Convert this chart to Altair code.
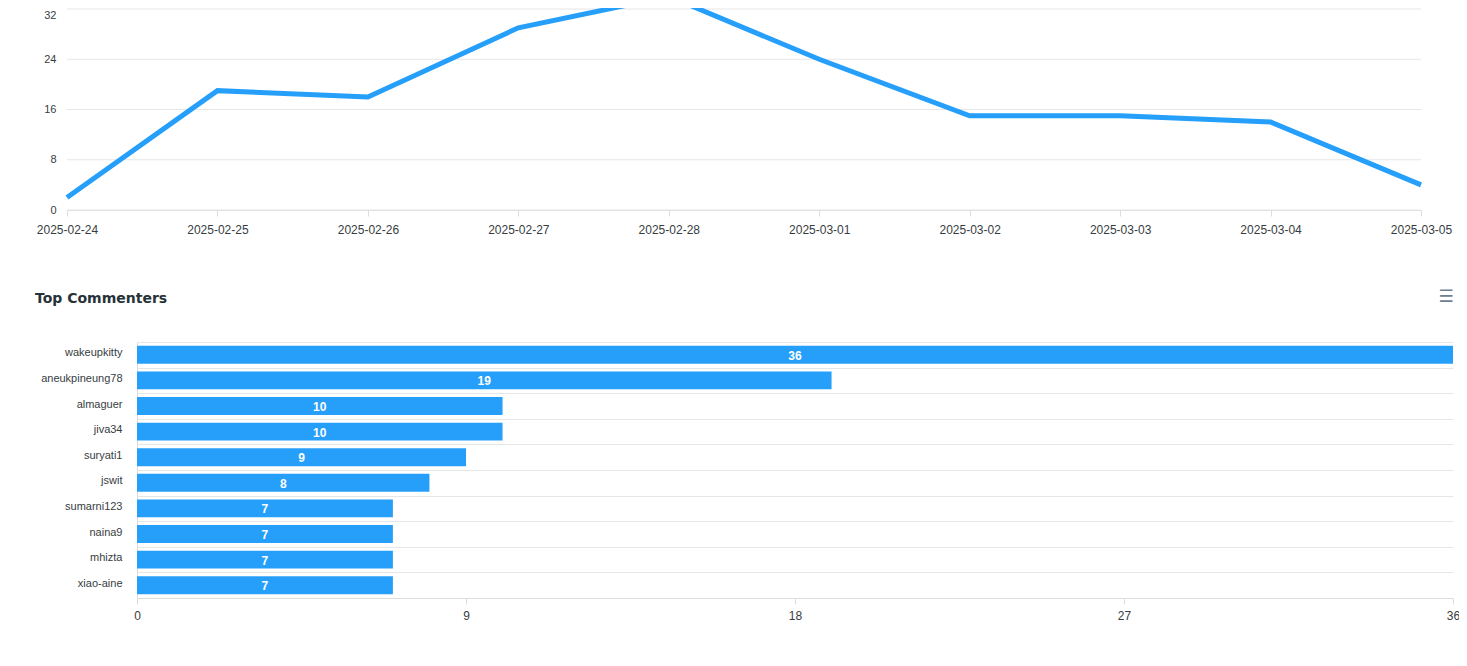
import altair as alt
import pandas as pd

# ---- data ----
dates = ["2025-02-24", "2025-02-25", "2025-02-26", "2025-02-27", "2025-02-28",
         "2025-03-01", "2025-03-02", "2025-03-03", "2025-03-04", "2025-03-05"]
counts = [2, 19, 18, 29, 34, 24, 15, 15, 14, 4]
y_ticks = [0, 8, 16, 24, 32]

users = ["wakeupkitty", "aneukpineung78", "almaguer", "jiva34", "suryati1",
         "jswit", "sumarni123", "naina9", "mhizta", "xiao-aine"]
comments = [36, 19, 10, 10, 9, 8, 7, 7, 7, 7]
x_ticks = [0, 9, 18, 27, 36]

title_text = "Top Commenters"
menu_icon = ["☰"]

# ---- style ----
BLUE = "#269ffb"
GRID = "#e6e6e6"
AXIS = "#dcdcdc"
TEXT = "#373d3f"
FONT = "Liberation Sans"

LINE_W = 1284
LINE_H = 201
OFF = 70
BAR_W = 1316
BAR_H = 256

line_df = pd.DataFrame({"date": dates, "count": counts})
grid_df = pd.DataFrame({"g": y_ticks})
bar_df = pd.DataFrame({"user": users, "comments": comments})
icon_df = pd.DataFrame({"icon": menu_icon})

xscale = alt.Scale(type="point", range=[-OFF, LINE_W], padding=0)
yscale = alt.Scale(domain=[0, 32], nice=False)

x_axis = alt.Axis(labelAngle=0, domainColor=AXIS, tickColor=AXIS, tickSize=6,
                  labelPadding=8, labelFontSize=12, labelColor=TEXT, labelFont=FONT,
                  grid=False)
y_axis = alt.Axis(values=y_ticks, offset=OFF, domain=False, ticks=False, tickSize=0,
                  labelPadding=11, grid=False, labelFontSize=11, labelColor=TEXT,
                  labelFont=FONT,
                  labelBaseline={"condition": {"test": "datum.value == 32", "value": "top"},
                                 "value": "middle"})

grid = alt.Chart(grid_df).mark_rule(color=GRID, strokeWidth=1).encode(
    x=alt.XDatum(dates[0], type="nominal", title=None, scale=xscale, axis=x_axis),
    x2=alt.X2Datum(dates[-1]),
    y=alt.Y("g:Q", scale=yscale, title=None, axis=y_axis),
)

line = alt.Chart(line_df).mark_line(color=BLUE, strokeWidth=5).encode(
    x=alt.X("date:N", scale=xscale, title=None, axis=x_axis),
    y=alt.Y("count:Q", scale=yscale, title=None, axis=y_axis),
)

top_chart = alt.layer(grid, line).properties(width=LINE_W, height=LINE_H)

bars = alt.Chart(bar_df).mark_bar(color=BLUE, height={"band": 0.7}).encode(
    x=alt.X("comments:Q", scale=alt.Scale(domain=[0, 36], nice=False), title=None,
            axis=alt.Axis(values=x_ticks, grid=False, domainColor=AXIS, tickColor=AXIS,
                          tickSize=6, labelPadding=6, labelFontSize=12, labelColor=TEXT,
                          labelFont=FONT, labelFlush=False)),
    y=alt.Y("user:N", sort=users, title=None,
            scale=alt.Scale(paddingInner=0, paddingOuter=0),
            axis=alt.Axis(tickBand="extent", grid=True, gridColor=GRID, domainColor=AXIS,
                          ticks=False, labelPadding=15, labelFontSize=11, labelColor=TEXT,
                          labelFont=FONT, labelOffset=-2)),
)

bar_labels = alt.Chart(bar_df).mark_text(
    color="white", fontWeight="bold", fontSize=12, font=FONT, baseline="middle", dy=1
).transform_calculate(mid="datum.comments / 2").encode(
    x=alt.X("mid:Q", title=None),
    y=alt.Y("user:N", sort=users, title=None),
    text=alt.Text("comments:Q"),
)

icon = alt.Chart(icon_df).mark_text(
    color="#6e8192", fontSize=17, font="DejaVu Sans", align="center", baseline="middle"
).encode(
    x=alt.value(BAR_W - 7),
    y=alt.value(-45),
    text="icon:N",
)

bottom_chart = alt.layer(bars, bar_labels, icon).properties(
    width=BAR_W, height=BAR_H,
    title=alt.TitleParams(title_text, anchor="start", frame="group", dx=-102, offset=-18,
                          fontSize=14, font="DejaVu Sans", fontWeight="bold",
                          color="#263238"),
)

chart = alt.vconcat(top_chart, bottom_chart, spacing=53).properties(
    padding={"left": 27, "top": -22, "right": -32, "bottom": 0},
    background="white",
).configure_view(stroke=None)

chart.save("out.html", embed_options={"renderer": "svg", "actions": False})
